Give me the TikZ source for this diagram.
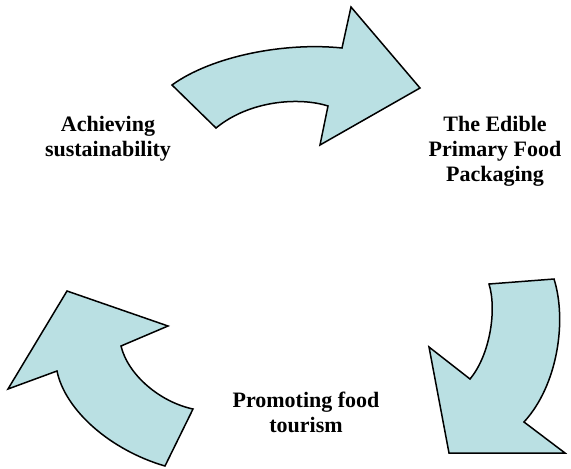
\documentclass[tikz,border=0pt]{standalone}
\usepackage{fontspec}
\setmainfont{Liberation Serif}
\definecolor{arrowfill}{RGB}{186,224,227}
\begin{document}
\begin{tikzpicture}[x=1pt,y=-1pt,
  cyclearrow/.style={draw=black,fill=arrowfill,line width=1.5pt,line join=miter},
  label/.style={align=center,inner sep=0pt,font=\fontsize{22}{25}\selectfont\bfseries}]
\useasboundingbox (0,0) rectangle (571,469);

% upper arrow, pointing right
\draw[cyclearrow] (172,85) .. controls (212,56) and (285,42) .. (342,48)
  -- (351,7) -- (420,88) -- (320,145) -- (328,106)
  .. controls (300,97) and (250,100) .. (216,128) -- cycle;

% right arrow, pointing down
\draw[cyclearrow] (489,284) -- (554,279)
  .. controls (567,320) and (558,385) .. (524,422)
  -- (565,453) -- (449,453) -- (429,347) -- (470,379)
  .. controls (490,355) and (497,310) .. (489,284) -- cycle;

% left arrow, pointing up
\draw[cyclearrow] (67,291) -- (168,326) -- (121,346)
  .. controls (128,375) and (160,402) .. (193,409)
  -- (165,466)
  .. controls (110,450) and (65,410) .. (57,371)
  -- (8,389) -- cycle;

\node[label] (sust) at (108,139) {Achieving\\sustainability};
\node[label] (pack) at (495,151) {The Edible\\Primary Food\\Packaging};
\node[label] (tour) at (306,412) {Promoting food\\tourism};
\end{tikzpicture}
\end{document}
